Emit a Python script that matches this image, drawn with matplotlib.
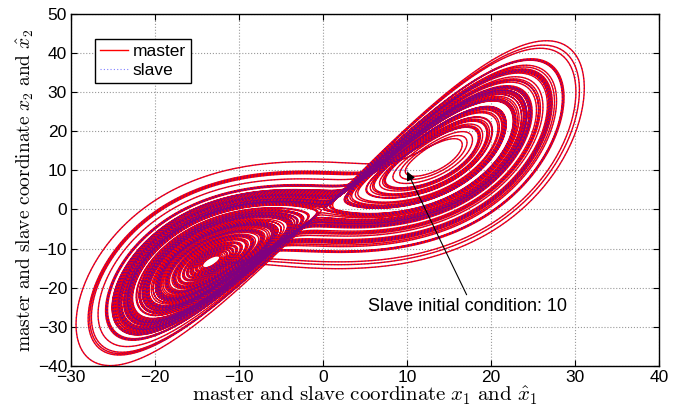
import numpy as np
import matplotlib
matplotlib.use("Agg")
from matplotlib import pyplot as plt

# Lorenz parameters (sigma, rho, beta) and simulation setup
PARAMS = [16.0, 45.92, 4.0]
MASTER_X0 = [1.4, 0.0, 10.0]
SLAVE_X0 = [10.0, 10.0, 10.0]
GAIN = [30.0, 30.0, 30.0]
T_END = 80.0
DT = 0.002

X_TICKS = [-30, -20, -10, 0, 10, 20, 30, 40]
Y_TICKS = [-40, -30, -20, -10, 0, 10, 20, 30, 40, 50]
ANNOT_TEXT = "Slave initial condition: 10"


def coupled(st):
    sig, rho, beta = PARAMS
    x, y, z, xh, yh, zh = st
    # master
    dx = sig * (y - x)
    dy = rho * x - y - x * z
    dz = x * y - beta * z
    # slave with error feedback from the master
    dxh = sig * (yh - xh) + GAIN[0] * (x - xh)
    dyh = rho * xh - yh - xh * zh + GAIN[1] * (y - yh)
    dzh = xh * yh - beta * zh + GAIN[2] * (z - zh)
    return np.array([dx, dy, dz, dxh, dyh, dzh])


def simulate():
    n = int(T_END / DT)
    out = np.zeros((n + 1, 6))
    out[0] = MASTER_X0 + SLAVE_X0
    st = out[0].copy()
    for i in range(n):
        k1 = coupled(st)
        k2 = coupled(st + 0.5 * DT * k1)
        k3 = coupled(st + 0.5 * DT * k2)
        k4 = coupled(st + DT * k3)
        st = st + DT / 6.0 * (k1 + 2 * k2 + 2 * k3 + k4)
        out[i + 1] = st
    return out


traj = simulate()

plt.rcParams["font.family"] = ["Liberation Sans", "DejaVu Sans"]
plt.rcParams["mathtext.fontset"] = "cm"

fig = plt.figure(figsize=(6.78, 4.12), dpi=100)
ax = fig.add_axes([0.105, 0.112, 0.867, 0.854])

ax.plot(traj[:, 0], traj[:, 1], color="red", lw=1.0, label="master")
ax.plot(traj[:, 3], traj[:, 4], color="blue", lw=0.8, ls=(0, (1, 2)),
        alpha=0.5, label="slave")

ax.set_xlim(-30, 40)
ax.set_ylim(-40, 50)
ax.set_xticks(X_TICKS)
ax.set_yticks(Y_TICKS)
ax.set_xticklabels([str(t).replace("-", "\u2212") for t in X_TICKS])
ax.set_yticklabels([str(t).replace("-", "\u2212") for t in Y_TICKS])
ax.tick_params(direction="in", top=True, right=True, labelsize=12.5, length=4)
ax.tick_params(axis="x", pad=3)
ax.tick_params(axis="y", pad=3)
ax.grid(True, ls=":", color="#999999", lw=0.8)
for sp in ax.spines.values():
    sp.set_linewidth(1.0)

ax.set_xlabel(r"$\mathrm{master\ and\ slave\ coordinate}\ x_1\ \mathrm{and}\ \hat{x}_1$",
              fontsize=15, labelpad=0)
ax.set_ylabel(r"$\mathrm{master\ and\ slave\ coordinate}\ x_2\ \mathrm{and}\ \hat{x}_2$",
              fontsize=14, labelpad=1)

ax.annotate(ANNOT_TEXT, xy=(SLAVE_X0[0], SLAVE_X0[1] - 0.3), xytext=(5.4, -24.7),
            fontsize=13, va="center", ha="left",
            arrowprops=dict(arrowstyle="-|>", color="black", lw=0.8,
                            shrinkA=0, shrinkB=0,
                            relpos=(0.5, 1.0)))

leg = ax.legend(loc="upper left", bbox_to_anchor=(0.04, 0.93), fontsize=12.5,
                fancybox=False, framealpha=1, edgecolor="black",
                handlelength=1.6, borderpad=0.3, labelspacing=0.2,
                handletextpad=0.3, borderaxespad=0)
leg.get_frame().set_linewidth(1.0)

fig.savefig("out.png", dpi=100)
